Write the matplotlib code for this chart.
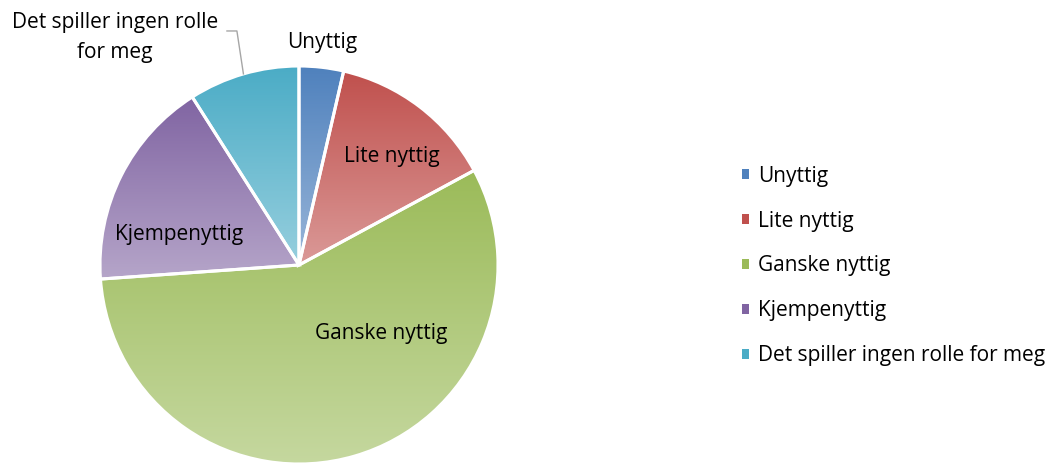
import numpy as np
import matplotlib
matplotlib.use('Agg')
import matplotlib.pyplot as plt
from matplotlib.colors import to_rgb
from matplotlib.patches import Patch

plt.rcParams['font.family'] = ['Open Sans', 'DejaVu Sans']

categories = ['Unyttig', 'Lite nyttig', 'Ganske nyttig', 'Kjempenyttig',
              'Det spiller ingen rolle for meg']
counts = [4, 15, 63, 19, 10]
colors = ['#4F81BD', '#C0504D', '#9BBB59', '#8064A2', '#4BACC6']

# label text and where it sits (in pie radius units)
slice_labels = ['Unyttig', 'Lite nyttig', 'Ganske nyttig', 'Kjempenyttig',
                'Det spiller ingen rolle\nfor meg']
label_pos = [(0.116, 1.116), (0.467, 0.543), (0.412, -0.342),
             (-0.603, 0.151), (-0.925, 1.143)]

FS = 15


def lighten(c, amount):
    r, g, b = to_rgb(c)
    return (r + (1 - r) * amount, g + (1 - g) * amount, b + (1 - b) * amount)


fig = plt.figure(figsize=(10.54, 4.63), dpi=100)
ax = fig.add_axes([100 / 1054, -1 / 463, 398 / 1054, 398 / 463])

wedges, _ = ax.pie(counts, startangle=90, counterclock=False, radius=1,
                   colors=colors,
                   wedgeprops=dict(edgecolor='white', linewidth=2.2))

# vertical gradient fill per slice, dark on top and pale at the bottom
for w, c in zip(wedges, colors):
    ext = w.get_path().get_extents()
    top = np.array(to_rgb(c))
    bot = np.array(lighten(c, 0.42))
    t = np.linspace(0, 1, 256)[:, None]
    grad = (top[None, :] * (1 - t) + bot[None, :] * t)[:, None, :]
    im = ax.imshow(grad, extent=(ext.x0, ext.x1, ext.y0, ext.y1),
                   origin='upper', aspect='auto', zorder=1,
                   interpolation='bilinear')
    im.set_clip_path(w)
    w.set_facecolor('none')
    w.set_zorder(2)

ax.set_xlim(-1, 1)
ax.set_ylim(-1, 1)
ax.set_aspect('auto')
ax.axis('off')

for txt, (x, y) in zip(slice_labels, label_pos):
    ax.text(x, y, txt, ha='center', va='center', fontsize=FS,
            color='black', zorder=5, multialignment='center',
            linespacing=1.6)

# leader line for the last slice
angles = 90 - np.cumsum([0] + counts) / sum(counts) * 360
mid = np.deg2rad((angles[-2] + angles[-1]) / 2)
ex, ey = np.cos(mid), np.sin(mid)
ax.plot([-0.362, -0.312, ex], [1.176, 1.176, ey], color='#A6A6A6',
        linewidth=1, clip_on=False, zorder=5)

handles = [Patch(facecolor=c, edgecolor='none') for c in colors]
fig.legend(handles, categories, loc='center left',
           bbox_to_anchor=(723 / 1054, 1 - 266 / 463), frameon=False,
           fontsize=FS, handlelength=0.33, handleheight=0.33,
           handletextpad=0.45, labelspacing=1.15)

fig.savefig('out.png', dpi=100)
